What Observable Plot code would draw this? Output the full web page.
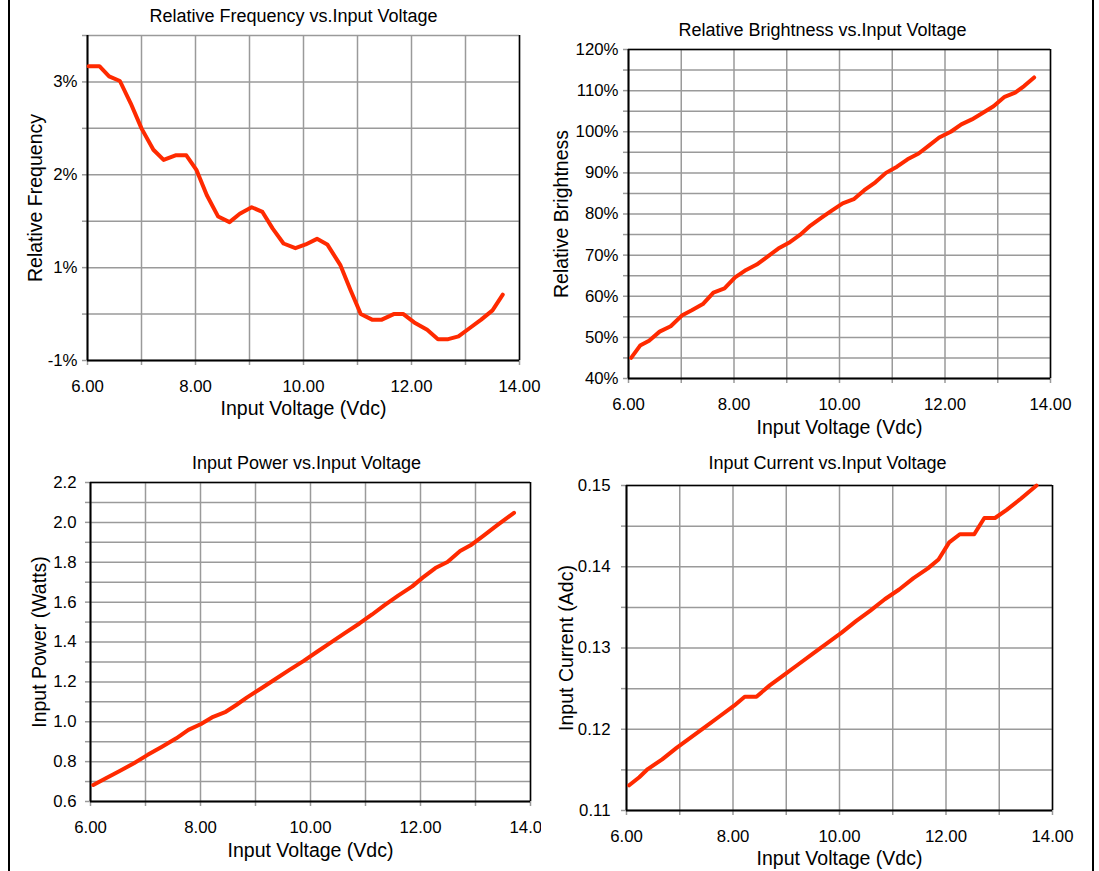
<!DOCTYPE html>
<html><head><meta charset="utf-8">
<script src="https://cdn.jsdelivr.net/npm/d3@7"></script>
<script src="https://cdn.jsdelivr.net/npm/@observablehq/plot@0.6"></script>
<style>
body{margin:0;background:#fff;}
#page{position:relative;width:1099px;height:871px;overflow:hidden;background:#fff;}
.panel{position:absolute;}
.panel svg{overflow:hidden;}
.border{position:absolute;top:0;width:1.5px;height:871px;background:#000;}
</style></head><body><div id="page"></div>
<script>
// ---- shared x axis (Input Voltage) ----
const voltageGrid = [6, 7, 8, 9, 10, 11, 12, 13, 14];
const voltageLabels = ["6.00", "", "8.00", "", "10.00", "", "12.00", "", "14.00"];

// ---- Relative Frequency vs. Input Voltage ----
const freqV = [6.02,6.22,6.40,6.60,6.80,7.00,7.22,7.41,7.63,7.83,8.02,8.21,8.42,8.63,8.82,9.04,9.24,9.43,9.63,9.85,10.04,10.25,10.44,10.68,10.87,11.06,11.27,11.45,11.67,11.85,12.05,12.29,12.49,12.68,12.87,13.08,13.29,13.50,13.69];
const freqY = [3.17,3.17,3.06,3.01,2.77,2.50,2.27,2.16,2.21,2.21,2.05,1.78,1.55,1.49,1.58,1.65,1.60,1.42,1.26,1.21,1.25,1.31,1.25,1.03,0.76,0.50,0.44,0.44,0.50,0.50,0.41,0.33,0.23,0.23,0.26,0.35,0.44,0.54,0.71];
const freqGrid = [0,0.5,1,1.5,2,2.5,3,3.5];
const freqTickValues = [0, 1, 2, 3];
const freqTickLabels = ["-1%", "1%", "2%", "3%"];

// ---- Relative Brightness vs. Input Voltage ----
const brightV = [6.05,6.22,6.39,6.59,6.80,7.02,7.20,7.41,7.61,7.82,8.02,8.23,8.43,8.63,8.84,9.04,9.25,9.45,9.66,9.86,10.06,10.27,10.47,10.68,10.88,11.09,11.29,11.50,11.70,11.89,12.11,12.31,12.51,12.72,12.92,13.13,13.33,13.50,13.69];
const brightY = [45.0,48.0,49.2,51.4,52.7,55.4,56.6,58.1,60.9,61.9,64.6,66.4,67.7,69.6,71.6,73.0,74.9,77.2,79.1,80.9,82.6,83.6,85.8,87.7,90.0,91.5,93.3,94.7,96.7,98.6,100.0,101.8,103.0,104.6,106.2,108.5,109.5,111.1,113.2];
const brightGrid = [40,45,50,55,60,65,70,75,80,85,90,95,100,105,110,115,120];
const brightTickValues = [40,50,60,70,80,90,100,110,120];
const brightTickLabels = ["40%","50%","60%","70%","80%","90%","100%","110%","120%"];

// ---- Input Power vs. Input Voltage ----
const powerV = [6.05,6.28,6.53,6.79,7.04,7.30,7.56,7.78,8.01,8.23,8.46,8.65,8.84,9.10,9.35,9.61,9.87,10.12,10.38,10.63,10.89,11.12,11.34,11.60,11.85,12.04,12.27,12.49,12.72,12.91,13.13,13.39,13.70];
const powerY = [0.683,0.717,0.753,0.792,0.834,0.875,0.917,0.959,0.989,1.025,1.050,1.084,1.121,1.167,1.212,1.259,1.304,1.351,1.399,1.446,1.493,1.538,1.584,1.634,1.679,1.723,1.771,1.801,1.856,1.885,1.930,1.985,2.048];
const powerGrid = [0.6,0.7,0.8,0.9,1.0,1.1,1.2,1.3,1.4,1.5,1.6,1.7,1.8,1.9,2.0,2.1,2.2];
const powerTickValues = [0.6,0.8,1.0,1.2,1.4,1.6,1.8,2.0,2.2];
const powerTickLabels = ["0.6","0.8","1.0","1.2","1.4","1.6","1.8","2.0","2.2"];

// ---- Input Current vs. Input Voltage ----
const currentV = [6.05,6.24,6.40,6.67,6.94,7.21,7.48,7.75,8.02,8.22,8.44,8.69,8.96,9.23,9.50,9.77,10.04,10.31,10.58,10.85,11.12,11.39,11.66,11.86,12.06,12.26,12.53,12.72,12.92,13.14,13.41,13.70];
const currentY = [0.1131,0.1141,0.1151,0.1163,0.1177,0.1190,0.1203,0.1216,0.1229,0.1240,0.1240,0.1254,0.1267,0.1280,0.1293,0.1306,0.1319,0.1333,0.1346,0.1360,0.1372,0.1386,0.1398,0.1409,0.1430,0.1440,0.1440,0.1460,0.1460,0.1470,0.1484,0.1500];
const currentGrid = [0.11,0.115,0.12,0.125,0.13,0.135,0.14,0.145,0.15];
const currentTickValues = [0.11,0.12,0.13,0.14,0.15];
const currentTickLabels = ["0.11","0.12","0.13","0.14","0.15"];

const FONT = '"Liberation Sans", Arial, Helvetica, sans-serif';
const RED = "#ff2a00";
const GRID = "#9a9a9a";
const key = v => Math.round(v * 100000);

function makePanel(c) {
  const data = c.xs.map((x, i) => ({x, y: c.ys[i]}));
  const yLab = new Map(c.yTickValues.map((v, i) => [key(v), c.yTickLabels[i]]));
  const xLab = new Map(voltageGrid.map((v, i) => [key(v), voltageLabels[i]]));
  const frameMid = (c.marginLeft + (c.width - c.marginRight)) / 2;
  const chart = Plot.plot({
    width: c.width, height: c.height,
    marginLeft: c.marginLeft, marginRight: c.marginRight,
    marginTop: c.marginTop, marginBottom: c.marginBottom,
    style: {background: "transparent", fontFamily: FONT, color: "black", overflow: "hidden"},
    x: {domain: [6, 14]},
    y: {domain: c.yDomain},
    marks: [
      Plot.gridX(voltageGrid, {stroke: GRID, strokeOpacity: 1, strokeWidth: 1.5}),
      Plot.gridY(c.yGrid, {stroke: GRID, strokeOpacity: 1, strokeWidth: 1.5}),
      Plot.axisX(voltageGrid, {tickSize: 5, tickPadding: 15, stroke: GRID, strokeWidth: 1.5, fill: "black", fontSize: 16.8,
        tickFormat: d => xLab.get(key(d)) ?? "", label: null}),
      Plot.axisY(c.yGrid, {tickSize: 5, tickPadding: c.yPad, stroke: GRID, strokeWidth: 1.5, fill: "black", fontSize: 16.8,
        tickFormat: d => yLab.get(key(d)) ?? "", label: null}),
      c.topBlack ? Plot.ruleY([c.yDomain[1]], {stroke: "black", strokeWidth: 1.5}) : null,
      Plot.ruleX([14], {stroke: "black", strokeWidth: 1.5}),
      Plot.ruleX([6], {stroke: "black", strokeWidth: 2}),
      Plot.ruleY([c.yDomain[0]], {stroke: "black", strokeWidth: 2}),
      Plot.line(data, {x: "x", y: "y", stroke: RED, strokeWidth: 4, strokeLinejoin: "round"}),
      Plot.text([c.title], {frameAnchor: "top", lineAnchor: "middle", textAnchor: "middle",
        dx: c.titleX - frameMid, dy: c.titleY - c.marginTop, fontSize: 18, fill: "black"}),
      Plot.text([c.xLabel], {frameAnchor: "bottom", lineAnchor: "middle", textAnchor: "middle",
        dy: c.xLabelDy, fontSize: 19.5, fill: "black"}),
      Plot.text([c.yLabel], {frameAnchor: "left", lineAnchor: "middle", textAnchor: "middle",
        dx: c.yLabelDx, rotate: -90, fontSize: 19.5, fill: "black"})
    ]
  });
  const div = document.createElement("div");
  div.className = "panel";
  div.style.left = c.left + "px";
  div.style.top = c.top + "px";
  div.style.width = c.width + "px";
  div.style.height = c.height + "px";
  div.style.overflow = "hidden";
  div.appendChild(chart);
  document.getElementById("page").appendChild(div);
}

makePanel({
  xs: freqV, ys: freqY, yDomain: [0, 3.5], yGrid: freqGrid, yTickValues: freqTickValues, yTickLabels: freqTickLabels,
  left: 0, top: 0, width: 546, height: 430, marginLeft: 87, marginRight: 27, marginTop: 35, marginBottom: 70,
  yPad: 5, topBlack: false,
  title: "Relative Frequency vs.Input Voltage", titleX: 293, titleY: 16,
  xLabel: "Input Voltage (Vdc)", xLabelDy: 48,
  yLabel: "Relative Frequency", yLabelDx: -52
});
makePanel({
  xs: brightV, ys: brightY, yDomain: [40, 120], yGrid: brightGrid, yTickValues: brightTickValues, yTickLabels: brightTickLabels,
  left: 546, top: 0, width: 553, height: 440, marginLeft: 82, marginRight: 49, marginTop: 49, marginBottom: 62,
  yPad: 5, topBlack: true,
  title: "Relative Brightness vs.Input Voltage", titleX: 822 - 546, titleY: 30,
  xLabel: "Input Voltage (Vdc)", xLabelDy: 49,
  yLabel: "Relative Brightness", yLabelDx: -67
});
makePanel({
  xs: powerV, ys: powerY, yDomain: [0.6, 2.2], yGrid: powerGrid, yTickValues: powerTickValues, yTickLabels: powerTickLabels,
  left: 0, top: 440, width: 541, height: 431, marginLeft: 90, marginRight: 11, marginTop: 42, marginBottom: 70,
  yPad: 9, topBlack: true,
  title: "Input Power vs.Input Voltage", titleX: 306, titleY: 23,
  xLabel: "Input Voltage (Vdc)", xLabelDy: 49,
  yLabel: "Input Power (Watts)", yLabelDx: -51
});
makePanel({
  xs: currentV, ys: currentY, yDomain: [0.11, 0.15], yGrid: currentGrid, yTickValues: currentTickValues, yTickLabels: currentTickLabels,
  left: 541, top: 440, width: 558, height: 431, marginLeft: 85, marginRight: 47, marginTop: 45, marginBottom: 61,
  yPad: 11, topBlack: true,
  title: "Input Current vs.Input Voltage", titleX: 827 - 541, titleY: 23,
  xLabel: "Input Voltage (Vdc)", xLabelDy: 48,
  yLabel: "Input Current (Adc)", yLabelDx: -60
});

// page borders
for (const x of [8, 1092]) {
  const b = document.createElement("div");
  b.className = "border";
  b.style.left = x + "px";
  document.getElementById("page").appendChild(b);
}
</script>
</body></html>
